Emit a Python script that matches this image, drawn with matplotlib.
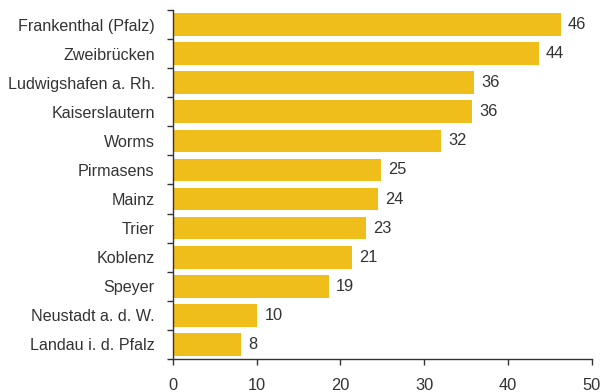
import numpy as np
import matplotlib.pyplot as plt
from matplotlib.ticker import FixedLocator

staedte = ["Frankenthal (Pfalz)", "Zweibrücken", "Ludwigshafen a. Rh.", "Kaiserslautern",
           "Worms", "Pirmasens", "Mainz", "Trier", "Koblenz", "Speyer",
           "Neustadt a. d. W.", "Landau i. d. Pfalz"]
werte = [46.3, 43.7, 36.0, 35.7, 32.0, 24.9, 24.5, 23.1, 21.4, 18.6, 10.1, 8.2]
beschriftung = ["46", "44", "36", "36", "32", "25", "24", "23", "21", "19", "10", "8"]
x_ticks = [0, 10, 20, 30, 40, 50]

plt.rcParams['font.family'] = ['Liberation Sans', 'DejaVu Sans']
textfarbe = "#333333"

fig = plt.figure(figsize=(6.01, 3.92), dpi=100)
ax = fig.add_axes([0.2874, 0.0842, 0.6971, 0.8903])

y = np.arange(len(staedte))
ax.barh(y, werte, height=0.78, color="#F0BE1A")

for yi, w, t in zip(y, werte, beschriftung):
    ax.text(w + 0.85, yi, t, va="center", ha="left", fontsize=11.8, color=textfarbe)

ax.set_ylim(len(staedte) - 0.5, -0.5)
ax.set_xlim(0, 50)
ax.set_yticks(y)
ax.set_yticklabels(staedte, fontsize=11.6, color=textfarbe)
ax.yaxis.set_minor_locator(FixedLocator(np.arange(-0.5, len(staedte), 1)))
ax.tick_params(axis="y", which="major", length=0, pad=13)
ax.tick_params(axis="y", which="minor", length=4, width=1, color=textfarbe)
ax.set_xticks(x_ticks)
ax.set_xticklabels([str(v) for v in x_ticks], fontsize=11.8, color=textfarbe)
ax.tick_params(axis="x", length=4, width=1, color=textfarbe, pad=10)

for s in ["top", "right"]:
    ax.spines[s].set_visible(False)
for s in ["left", "bottom"]:
    ax.spines[s].set_color(textfarbe)
    ax.spines[s].set_linewidth(1)

fig.savefig("out.png", dpi=100)
